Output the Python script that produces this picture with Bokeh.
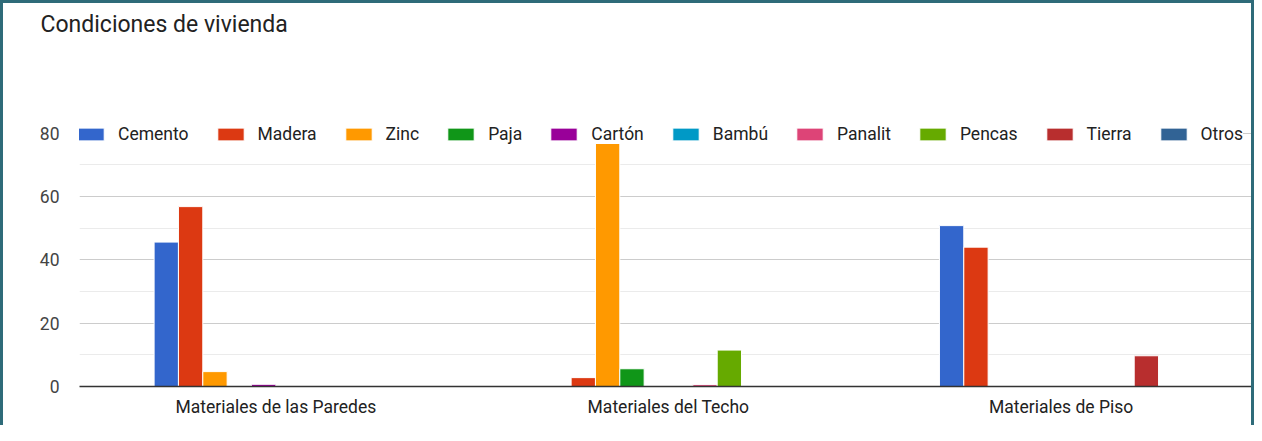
from bokeh.plotting import figure
from bokeh.models import FactorRange, Range1d, FixedTicker, Legend, LegendItem, ColumnDataSource
from bokeh.transform import dodge
from bokeh.embed import file_html
from bokeh.resources import INLINE

categories = ["Materiales de las Paredes", "Materiales del Techo", "Materiales de Piso"]
series = ["Cemento", "Madera", "Zinc", "Paja", "Cartón", "Bambú", "Panalit", "Pencas", "Tierra", "Otros"]
cemento = [45.6, 0, 50.8]
madera = [56.8, 2.8, 44.0]
zinc = [4.7, 76.8, 0]
paja = [0, 5.6, 0]
carton = [0.7, 0, 0]
bambu = [0, 0, 0]
panalit = [0, 0.6, 0]
pencas = [0, 11.5, 0]
tierra = [0, 0, 9.7]
otros = [0, 0, 0]
y_ticks = [0, 20, 40, 60, 80]
y_minor = [10, 30, 50, 70]

colors = ["#3366cc", "#dc3912", "#ff9900", "#109618", "#990099",
          "#0099c6", "#dd4477", "#66aa00", "#b82e2e", "#316395"]
values = [cemento, madera, zinc, paja, carton, bambu, panalit, pencas, tierra, otros]

data = {"cat": categories}
for i, v in enumerate(values):
    data[f"s{i}"] = v
src = ColumnDataSource(data)

W, H = 1254, 425
frame_top = 39
frame_bottom = 383
ymax = (frame_bottom - frame_top) / 3.167

p = figure(x_range=FactorRange(*categories), y_range=Range1d(0, ymax),
           width=W, height=H, output_backend="svg", toolbar_location=None,
           min_border_left=76, min_border_right=0, min_border_top=frame_top,
           min_border_bottom=H - frame_bottom)
p.styles = {"border": "3px solid #2f6b79", "border-bottom": "none", "box-sizing": "border-box"}
p.outline_line_color = None
p.background_fill_color = "white"
p.border_fill_color = "white"

p.title.text = "Condiciones de vivienda"
p.title.text_font = "Roboto"
p.title.text_font_size = "23px"
p.title.text_font_style = "normal"
p.title.text_color = "#222222"
p.title.align = "left"
p.title.offset = -39

bw = 0.062
items = []
for i, (name, c) in enumerate(zip(series, colors)):
    r = p.vbar(x=dodge("cat", (i - 4.5) * bw, range=p.x_range), top=f"s{i}", width=bw,
               source=src, fill_color=c, line_color="white", line_width=1)
    items.append(LegendItem(label=name, renderers=[r]))

leg = Legend(items=items, orientation="horizontal", location=(-5, 242),
             glyph_width=33, glyph_height=16, label_standoff=11, spacing=25,
             padding=0, margin=0, border_line_alpha=0,
             background_fill_color="white", background_fill_alpha=1,
             label_text_font="Roboto", label_text_font_size="17.5px",
             label_text_color="#222222", label_height=20)
p.add_layout(leg)

p.xgrid.grid_line_color = None
p.ygrid.ticker = FixedTicker(ticks=y_ticks, minor_ticks=y_minor)
p.ygrid.grid_line_color = "#cccccc"
p.ygrid.minor_grid_line_color = "#ebebeb"

p.yaxis.ticker = FixedTicker(ticks=y_ticks, minor_ticks=y_minor)
p.yaxis.axis_line_color = None
p.yaxis.major_tick_line_color = None
p.yaxis.minor_tick_line_color = None
p.yaxis.major_tick_out = 0
p.yaxis.major_tick_in = 0
p.yaxis.minor_tick_out = 0
p.yaxis.major_label_standoff = 20
p.yaxis.major_label_text_font = "Roboto"
p.yaxis.major_label_text_font_size = "17.5px"
p.yaxis.major_label_text_color = "#444444"

p.xaxis.axis_line_color = "#333333"
p.xaxis.axis_line_width = 1.5
p.xaxis.major_tick_line_color = None
p.xaxis.minor_tick_line_color = None
p.xaxis.major_tick_out = 0
p.xaxis.major_tick_in = 0
p.xaxis.minor_tick_out = 0
p.xaxis.major_label_standoff = 10
p.xaxis.major_label_text_font = "Roboto"
p.xaxis.major_label_text_font_size = "17.5px"
p.xaxis.major_label_text_color = "#222222"

open("out.html", "w").write(file_html(p, INLINE))
